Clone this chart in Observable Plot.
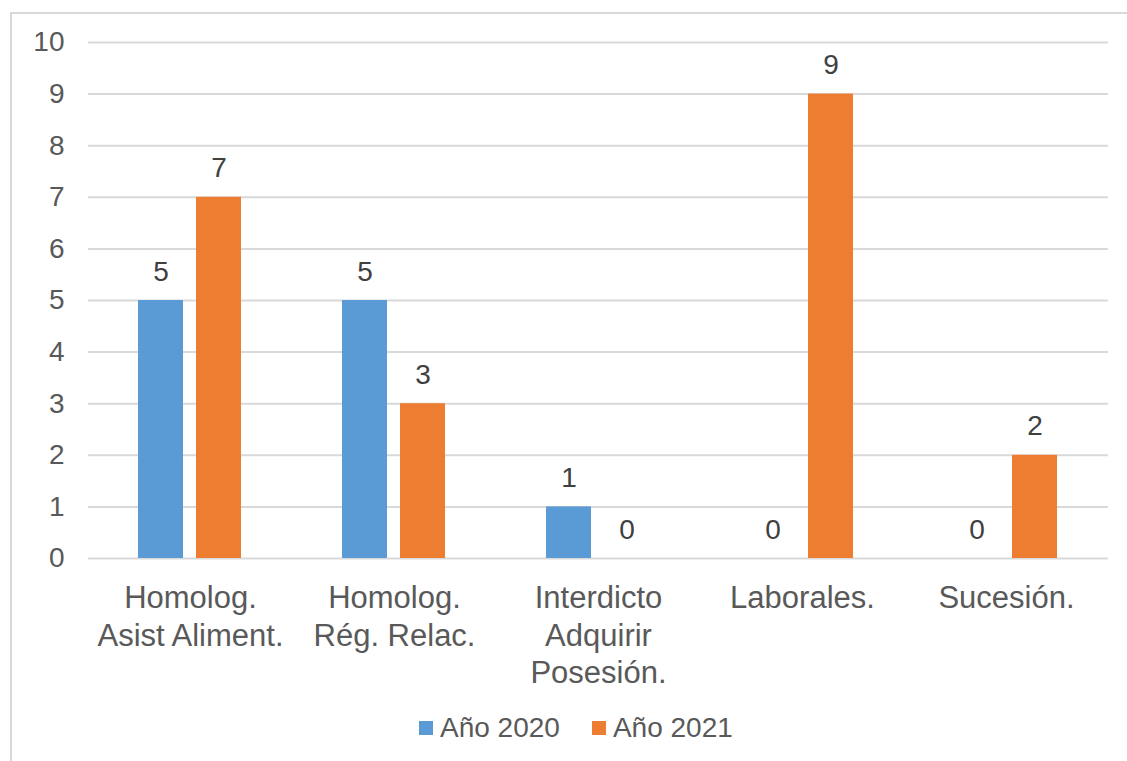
<!DOCTYPE html>
<html>
<head>
<meta charset="utf-8">
<script src="https://cdn.jsdelivr.net/npm/d3@7"></script>
<script src="https://cdn.jsdelivr.net/npm/@observablehq/plot@0.6"></script>
<style>
  html, body { margin: 0; padding: 0; background: #fff; }
  #wrap { position: relative; width: 1127px; height: 761px; overflow: hidden; font-family: "Liberation Sans", Arial, sans-serif; }
  #frame { position: absolute; left: 10px; top: 12px; width: 1140px; height: 780px; border: 2px solid #d9d9d9; box-sizing: border-box; }
  #chart { position: absolute; left: 0; top: 0; }
  #legend { position: absolute; left: 419px; top: 712px; display: flex; align-items: center; font-size: 28px; color: #595959; }
  .sw { width: 14px; height: 14px; display: inline-block; margin-right: 7px; }
  .item { display: flex; align-items: center; margin-right: 32px; }
</style>
</head>
<body>
<div id="wrap">
  <div id="frame"></div>
  <div id="chart"></div>
  <div id="legend"></div>
</div>
<script>
const categories = ["Homolog.\nAsist Aliment.", "Homolog.\nRég. Relac.", "Interdicto\nAdquirir\nPosesión.", "Laborales.", "Sucesión."];
const seriesNames = ["Año 2020", "Año 2021"];
const values2020 = [5, 5, 1, 0, 0];
const values2021 = [7, 3, 0, 9, 2];
const colors = ["#5B9BD5", "#ED7D31"];
const yTicks = [0, 1, 2, 3, 4, 5, 6, 7, 8, 9, 10];

const data = [];
categories.forEach((c, i) => {
  data.push({category: c, series: seriesNames[0], value: values2020[i]});
  data.push({category: c, series: seriesNames[1], value: values2021[i]});
});

const chart = Plot.plot({
  width: 1127,
  height: 700,
  marginLeft: 86,
  marginRight: 17,
  marginTop: 42,
  marginBottom: 142,
  style: {fontFamily: "Liberation Sans, Arial, sans-serif", background: "transparent"},
  fx: {domain: categories, padding: 0, label: null},
  x: {domain: seriesNames, paddingInner: 0.22, paddingOuter: 0.84, axis: null},
  y: {domain: [0, 10], label: null},
  color: {domain: seriesNames, range: colors},
  marks: [
    Plot.ruleY(yTicks, {stroke: "#d9d9d9", strokeWidth: 2}),
    Plot.axisY({ticks: yTicks, tickSize: 0, tickPadding: 24, fontSize: 28, fill: "#595959", label: null}),
    Plot.axisFx({anchor: "bottom", tickSize: 0, tickPadding: 23, fontSize: 31, fill: "#595959", lineHeight: 1.21, label: null}),
    Plot.barY(data, {fx: "category", x: "series", y: "value", fill: "series"}),
    Plot.text(data, {fx: "category", x: "series", y: "value", text: d => String(d.value), lineAnchor: "bottom", dy: -20, fontSize: 28, fill: "#404040"})
  ]
});
document.getElementById("chart").appendChild(chart);

const legend = document.getElementById("legend");
seriesNames.forEach((s, i) => {
  const item = document.createElement("div");
  item.className = "item";
  const sw = document.createElement("span");
  sw.className = "sw";
  sw.style.background = colors[i];
  item.appendChild(sw);
  const t = document.createElement("span");
  t.textContent = s;
  item.appendChild(t);
  legend.appendChild(item);
});
</script>
</body>
</html>
